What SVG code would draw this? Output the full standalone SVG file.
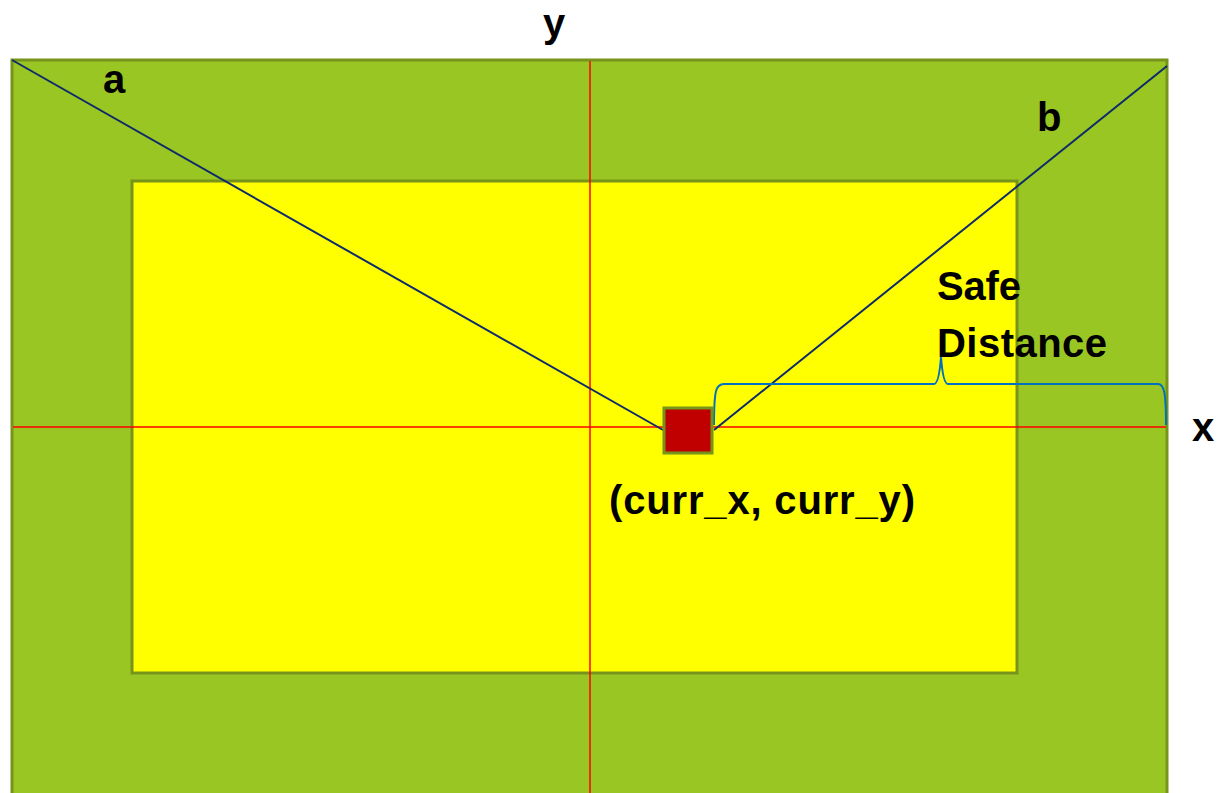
<svg xmlns="http://www.w3.org/2000/svg" width="1228" height="793" viewBox="0 0 1228 793">
<style>
.lbl{font-family:"Liberation Sans",Arial,sans-serif;font-weight:bold;fill:#000}
.frame{stroke:#76941A;stroke-width:3}
.axis{stroke:#FF0000;stroke-width:1.5;fill:none}
.ray{stroke:#0D2A6B;stroke-width:2;fill:none}
</style>
<rect width="1228" height="793" fill="#fff"/>
<g id="outer"><rect class="frame" x="12" y="60" width="1155" height="760" fill="#9AC623"/></g>
<g id="inner"><rect class="frame" x="132" y="181" width="885" height="492" fill="#FFFF00"/></g>
<g id="connectors">
<line class="axis" x1="590" y1="61" x2="590" y2="793"/>
<line class="axis" x1="13" y1="427" x2="1166" y2="427"/>
<line class="ray" x1="12" y1="60" x2="663" y2="430"/>
<line class="ray" x1="714" y1="430" x2="1167" y2="66"/>
<path d="M714,425 C714,390 716,384 724,384 L934,384 C938,384 940,370 941,357 C942,370 944,384 948,384 L1158,384 C1164,384 1166,392 1166,425" fill="none" stroke="#0070C0" stroke-width="2"/>
</g>
<g id="robot"><rect x="664" y="408" width="48" height="45" fill="#C00000" stroke="#76941A" stroke-width="3"/></g>
<g id="labels">
<text class="lbl" x="103" y="93" font-size="40">a</text>
<text class="lbl" x="1037" y="131" font-size="40">b</text>
<text class="lbl" x="543" y="37" font-size="40">y</text>
<text class="lbl" x="1192" y="441" font-size="40">x</text>
<text class="lbl" x="937" y="300" font-size="40" textLength="84">Safe</text>
<text class="lbl" x="937" y="357" font-size="40" textLength="170">Distance</text>
<text class="lbl" x="609" y="514" font-size="40" textLength="306">(curr_x, curr_y)</text>
</g>
</svg>
